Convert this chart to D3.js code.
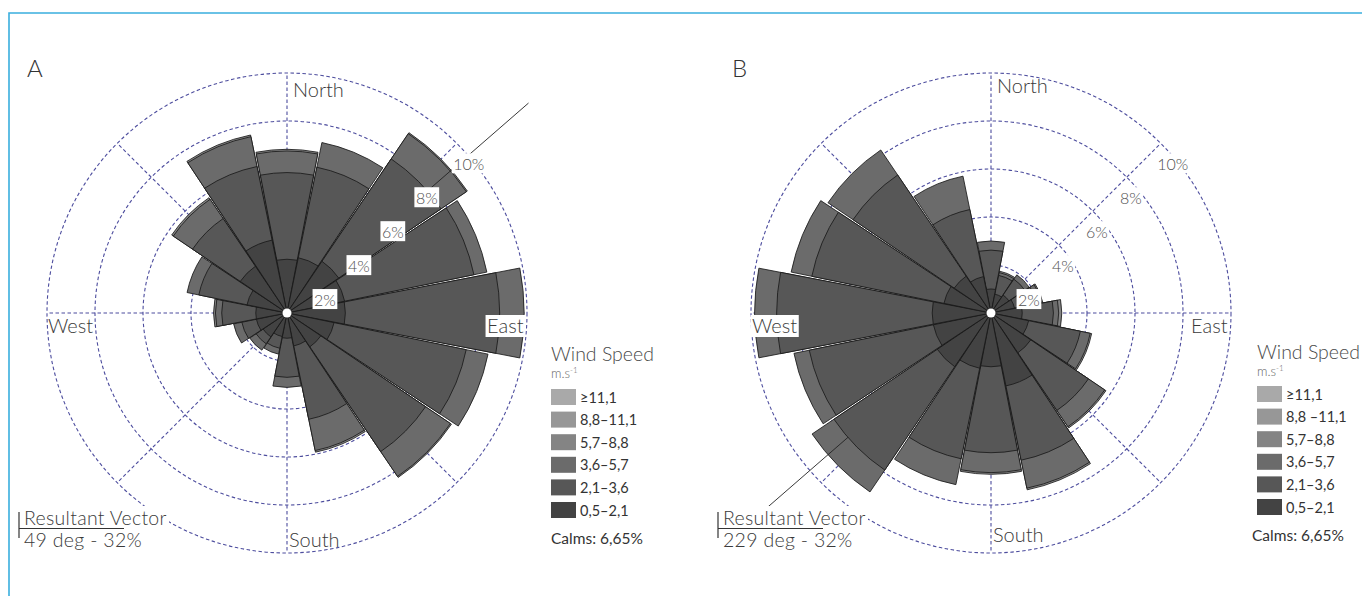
<!DOCTYPE html>
<html>
<head>
<meta charset="utf-8">
<script src="https://cdn.jsdelivr.net/npm/d3@7"></script>
<style>
  html, body { margin: 0; padding: 0; background: #fff; }
  svg { display: block; font-family: Lato, "Open Sans", "DejaVu Sans", sans-serif; }
</style>
</head>
<body>
<svg id="chart" width="1362" height="596"></svg>
<script>
// ---- data -------------------------------------------------------------
const directions = ["N","NNE","NE","ENE","E","ESE","SE","SSE","S","SSW","SW","WSW","W","WNW","NW","NNW"];
const speedClassesA = ["0,5–2,1","2,1–3,6","3,6–5,7","5,7–8,8","8,8–11,1","≥11,1"];
const speedClassesB = ["0,5–2,1","2,1–3,6","3,6–5,7","5,7–8,8","8,8 –11,1","≥11,1"];
const ringTicks = [2, 4, 6, 8, 10];

// Site A, frequency (%) by direction for each speed class
const siteA_05_21  = [2.24, 2.35, 2.60, 2.45, 2.43, 2.00, 1.70, 1.40, 1.05, 1.00, 1.20, 1.30, 1.30, 1.70, 2.35, 3.10];
const siteA_21_36  = [3.61, 3.85, 5.15, 5.50, 6.43, 5.62, 5.27, 3.12, 1.63, 0.50, 0.35, 0.62, 1.42, 2.05, 2.40, 3.13];
const siteA_36_57  = [0.90, 1.05, 1.27, 0.55, 1.02, 0.93, 1.25, 1.33, 0.42, 0.25, 0.32, 0.35, 0.26, 0.50, 0.97, 1.27];
const siteA_57_88  = [0.07, 0.00, 0.05, 0.00, 0.00, 0.00, 0.05, 0.07, 0.00, 0.00, 0.00, 0.00, 0.08, 0.00, 0.08, 0.07];
const siteA_88_111 = [0,0,0,0,0,0,0,0,0,0,0,0,0,0,0,0];
const siteA_111    = [0,0,0,0,0,0,0,0,0,0,0,0,0,0,0,0];
const calmsA = "6,65%";
const vectorA = { deg: 49, pct: 32 };

// Site B, frequency (%) by direction for each speed class
const siteB_05_21  = [1.00, 0.80, 0.90, 1.00, 1.30, 1.60, 2.00, 3.10, 2.24, 2.35, 2.70, 2.45, 2.45, 2.00, 1.85, 1.55];
const siteB_21_36  = [1.62, 0.80, 0.80, 0.95, 1.30, 2.20, 2.90, 3.16, 3.58, 3.85, 5.20, 5.28, 6.48, 5.62, 5.09, 2.85];
const siteB_36_57  = [0.38, 0.12, 0.22, 0.20, 0.22, 0.42, 0.82, 1.19, 0.83, 1.10, 1.10, 0.65, 0.92, 0.88, 1.26, 1.42];
const siteB_57_88  = [0.00, 0.06, 0.00, 0.05, 0.13, 0.06, 0.06, 0.07, 0.07, 0.00, 0.00, 0.00, 0.00, 0.00, 0.00, 0.00];
const siteB_88_111 = [0,0,0,0,0,0,0,0,0,0,0,0,0,0,0,0];
const siteB_111    = [0,0,0,0,0,0,0,0,0,0,0,0,0,0,0,0];
const calmsB = "6,65%";
const vectorB = { deg: 229, pct: 32 };

// ---- styling ----------------------------------------------------------
const classColors = ["#434343", "#575757", "#6b6b6b", "#848484", "#979797", "#a9a9a9"];
const gridColor = "#4d4d9e";
const textColor = "#3a3a3a";

const svg = d3.select("#chart");

// thin blue frame along the top and left edge
svg.append("path")
  .attr("d", "M9,596 L9,13 L1362,13")
  .attr("fill", "none")
  .attr("stroke", "#3aaede")
  .attr("stroke-width", 1.6);

const rScale = d3.scaleLinear().domain([0, 10]).range([0, 240]);   // % -> px
const vScale = d3.scaleLinear().domain([0, 10]).range([0, 100]);   // resultant vector length
const angleScale = d3.scaleBand().domain(directions).range([0, 2 * Math.PI]);
const toRad = d => d * Math.PI / 180;

const panels = [
  {
    letter: "A", cx: 287, cy: 313,
    series: [siteA_05_21, siteA_21_36, siteA_36_57, siteA_57_88, siteA_88_111, siteA_111],
    classes: speedClassesA, calms: calmsA, vector: vectorA,
    letterPos: [27, 77], northDy: 24, southDy: -6,
    legendX: 551, legendY: 361, swatchTop: 389, calmsX: 551, calmsY: 544,
    vecLabelX: 19
  },
  {
    letter: "B", cx: 991, cy: 313,
    series: [siteB_05_21, siteB_21_36, siteB_36_57, siteB_57_88, siteB_88_111, siteB_111],
    classes: speedClassesB, calms: calmsB, vector: vectorB,
    letterPos: [732, 77], northDy: 20, southDy: -11,
    legendX: 1257, legendY: 359, swatchTop: 386, calmsX: 1252, calmsY: 541,
    vecLabelX: 718
  }
];

function addBoxedText(g, x, y, text, opts) {
  const t = g.append("text")
    .attr("x", x).attr("y", y)
    .attr("text-anchor", opts.anchor || "start")
    .attr("font-size", opts.size)
    .attr("font-weight", opts.weight || 300)
    .attr("fill", opts.color || textColor)
    .text(text);
  if (opts.box) {
    const b = t.node().getBBox();
    g.insert("rect", () => t.node())
      .attr("x", b.x - 1.5).attr("y", b.y + (opts.boxTop || 0))
      .attr("width", b.width + 3).attr("height", b.height - (opts.boxTop || 0))
      .attr("fill", "#fff");
  }
  return t;
}

panels.forEach(p => {
  const g = svg.append("g");
  const c = g.append("g").attr("transform", `translate(${p.cx},${p.cy})`);
  const rMax = rScale(10);

  // panel letter
  g.append("text")
    .attr("x", p.letterPos[0]).attr("y", p.letterPos[1])
    .attr("font-size", 24).attr("font-weight", 300).attr("fill", "#333")
    .text(p.letter);

  // dashed frequency rings and compass spokes
  c.selectAll("circle.ring").data(ringTicks).join("circle")
    .attr("class", "ring")
    .attr("r", d => rScale(d))
    .attr("fill", "none")
    .attr("stroke", gridColor)
    .attr("stroke-width", 1.1)
    .attr("stroke-dasharray", "3.5,2.5");

  c.selectAll("line.spoke").data(d3.range(0, 360, 45)).join("line")
    .attr("class", "spoke")
    .attr("x1", 0).attr("y1", 0)
    .attr("x2", d => rMax * Math.sin(toRad(d)))
    .attr("y2", d => -rMax * Math.cos(toRad(d)))
    .attr("stroke", gridColor)
    .attr("stroke-width", 1.1)
    .attr("stroke-dasharray", "3.5,2.5");

  // stacked wedges: cumulative sectors drawn from the outermost class inwards
  const half = angleScale.bandwidth() / 2;
  const gap = toRad(0.32);
  const arc = d3.arc()
    .innerRadius(0)
    .outerRadius(d => rScale(d.outer))
    .startAngle(d => d.center - half + gap)
    .endAngle(d => d.center + half - gap);

  const cumulative = directions.map((dir, i) => {
    let acc = 0;
    return p.series.map(s => (acc += s[i]));
  });

  const bars = c.append("g");
  const drawClass = k => {
    const rows = directions
      .map((dir, i) => ({ center: angleScale(dir), value: p.series[k][i], outer: cumulative[i][k] }))
      .filter(d => d.value > 0);
    bars.append("g").selectAll("path").data(rows).join("path")
      .attr("d", arc)
      .attr("fill", classColors[k])
      .attr("stroke", "#1a1a1a")
      .attr("stroke-width", 0.85)
      .attr("stroke-linejoin", "miter");
  };
  for (let k = p.series.length - 1; k >= 2; k--) drawClass(k);

  // resultant vector
  const vr = vScale(p.vector.pct);
  bars.append("line")
    .attr("x1", 0).attr("y1", 0)
    .attr("x2", vr * Math.sin(toRad(p.vector.deg)))
    .attr("y2", -vr * Math.cos(toRad(p.vector.deg)))
    .attr("stroke", "#222").attr("stroke-width", 0.9);

  for (let k = 1; k >= 0; k--) drawClass(k);

  // centre marker
  c.append("circle").attr("r", 4.5).attr("fill", "#fff");

  // ring labels along the north-east diagonal
  ringTicks.forEach(t => {
    const r = rScale(t);
    const x = r * Math.SQRT1_2 + (t >= 10 ? 12 : 4);
    const y = -r * Math.SQRT1_2 + 20.5;
    const txt = c.append("text")
      .attr("x", x).attr("y", y)
      .attr("text-anchor", "middle")
      .attr("dominant-baseline", "central")
      .attr("font-size", 16).attr("font-weight", 300)
      .attr("fill", "#4f4f4f")
      .text(t + "%");
    const b = txt.node().getBBox();
    c.insert("rect", () => txt.node())
      .attr("x", b.x - 1.5).attr("y", b.y - 1)
      .attr("width", b.width + 3).attr("height", b.height + 1)
      .attr("fill", "#fff");
  });

  // compass labels; boxed where a petal runs underneath
  const reach = dir => rScale(d3.sum(p.series, s => s[directions.indexOf(dir)]));
  addBoxedText(c, 6, -rMax + p.northDy, "North", { size: 20, box: reach("N") > rMax - 30 });
  addBoxedText(c, 2, rMax + p.southDy, "South", { size: 20, box: reach("S") > rMax - 30 });
  addBoxedText(c, -rMax + 1, 20, "West", { size: 20, box: reach("W") > rMax - 50, boxTop: 2 });
  addBoxedText(c, rMax - 3.5, 20, "East", { size: 20, anchor: "end", box: reach("E") > rMax - 50, boxTop: 2 });

  // legend
  const lg = g.append("g");
  lg.append("text")
    .attr("x", p.legendX).attr("y", p.legendY)
    .attr("font-size", 19.5).attr("font-weight", 300).attr("fill", "#4a4a4a")
    .text("Wind Speed");
  const unit = lg.append("text")
    .attr("x", p.legendX).attr("y", p.legendY + 17)
    .attr("font-size", 13).attr("font-weight", 300).attr("fill", "#666");
  unit.append("tspan").text("m.s");
  unit.append("tspan").attr("dy", -5).attr("font-size", 8).text("-1");

  const order = d3.range(p.classes.length).reverse();
  const rowY = d3.scalePoint().domain(order).range([p.swatchTop, p.swatchTop + 5 * 22.6]);
  lg.selectAll("rect.sw").data(order).join("rect")
    .attr("class", "sw")
    .attr("x", p.legendX).attr("y", k => rowY(k))
    .attr("width", 25).attr("height", 16)
    .attr("fill", k => classColors[k]);
  lg.selectAll("text.lab").data(order).join("text")
    .attr("class", "lab")
    .attr("x", p.legendX + 29).attr("y", k => rowY(k) + 13.5)
    .attr("font-size", 14.5).attr("fill", "#333")
    .text(k => p.classes[k]);
  lg.append("text")
    .attr("x", p.calmsX).attr("y", p.calmsY)
    .attr("font-size", 15.5).attr("font-weight", 400).attr("fill", "#333")
    .text("Calms: " + p.calms);

  // resultant vector caption
  const vg = g.append("g");
  const vx = p.vecLabelX;
  vg.append("rect").attr("x", vx).attr("y", 506).attr("width", 150).attr("height", 44).attr("fill", "#fff");
  vg.append("line").attr("x1", vx).attr("x2", vx).attr("y1", 512).attr("y2", 538)
    .attr("stroke", "#333").attr("stroke-width", 1.2);
  vg.append("line").attr("x1", vx).attr("x2", vx + 105).attr("y1", 528.5).attr("y2", 528.5)
    .attr("stroke", "#333").attr("stroke-width", 1.2);
  vg.append("text").attr("x", vx + 5).attr("y", 524.5)
    .attr("font-size", 19.5).attr("font-weight", 300).attr("fill", textColor)
    .attr("letter-spacing", 0.3)
    .text("Resultant Vector");
  vg.append("text").attr("x", vx + 5).attr("y", 546.5)
    .attr("font-size", 19.5).attr("font-weight", 300).attr("fill", textColor)
    .attr("letter-spacing", 0.3)
    .text(`${p.vector.deg} deg - ${p.vector.pct}%`);
});
</script>
</body>
</html>
